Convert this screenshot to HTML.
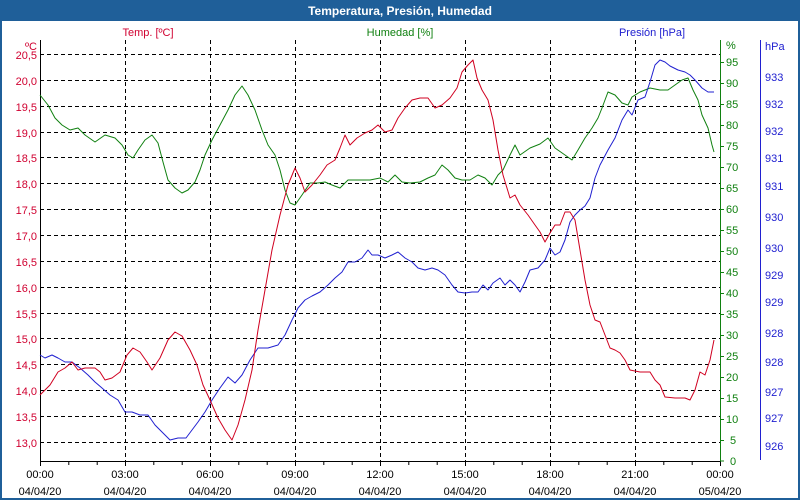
<!DOCTYPE html>
<html><head><meta charset="utf-8"><style>
html,body{margin:0;padding:0;background:#fff}
svg{display:block;font-family:"Liberation Sans",Tahoma,sans-serif}
</style></head><body>
<svg width="800" height="500" xmlns="http://www.w3.org/2000/svg">
<rect x="0" y="0" width="800" height="500" fill="#1f5f99"/>
<rect x="2" y="21" width="796" height="477" fill="#fff"/>
<text x="400" y="15" fill="#fff" font-size="12" font-weight="bold" text-anchor="middle">Temperatura, Presión, Humedad</text>
<g font-size="11">
<text x="148" y="36" fill="#d00030" text-anchor="middle">Temp. [ºC]</text>
<text x="400" y="36" fill="#108010" text-anchor="middle">Humedad [%]</text>
<text x="652" y="36" fill="#2020d0" text-anchor="middle">Presión [hPa]</text>
</g>
<g stroke="#000" stroke-dasharray="4,3" stroke-width="1">
<path d="M40 54.5H720M40 80.5H720M40 106.5H720M40 132.5H720M40 157.5H720M40 183.5H720M40 209.5H720M40 235.5H720M40 261.5H720M40 287.5H720M40 313.5H720M40 338.5H720M40 364.5H720M40 390.5H720M40 416.5H720M40 442.5H720"/>
<path d="M125.5 40V461M210.5 40V461M295.5 40V461M380.5 40V461M465.5 40V461M550.5 40V461M635.5 40V461"/>
</g>
<path d="M40.5 40V461.5H720" fill="none" stroke="#000"/>
<path d="M40.5 461V466M68.8 461V465M97.2 461V465M125.5 461V466M153.8 461V465M182.2 461V465M210.5 461V466M238.8 461V465M267.2 461V465M295.5 461V466M323.8 461V465M352.2 461V465M380.5 461V466M408.8 461V465M437.2 461V465M465.5 461V466M493.8 461V465M522.2 461V465M550.5 461V466M578.8 461V465M607.2 461V465M635.5 461V466M663.8 461V465M692.2 461V465M720.5 461V466" stroke="#000"/>
<g font-size="11" fill="#d00030" text-anchor="end">
<text x="37" y="50">ºC</text>
<text x="37" y="59">20,5</text><text x="37" y="85">20,0</text><text x="37" y="111">19,5</text><text x="37" y="137">19,0</text><text x="37" y="162">18,5</text><text x="37" y="188">18,0</text><text x="37" y="214">17,5</text><text x="37" y="240">17,0</text><text x="37" y="266">16,5</text><text x="37" y="292">16,0</text><text x="37" y="318">15,5</text><text x="37" y="343">15,0</text><text x="37" y="369">14,5</text><text x="37" y="395">14,0</text><text x="37" y="421">13,5</text><text x="37" y="447">13,0</text>
</g>
<path d="M720.5 40V461" stroke="#108010"/>
<g stroke="#108010"><path d="M720 62.5h4M720 83.5h4M720 104.5h4M720 125.5h4M720 146.5h4M720 167.5h4M720 188.5h4M720 209.5h4M720 230.5h4M720 251.5h4M720 272.5h4M720 293.5h4M720 314.5h4M720 335.5h4M720 356.5h4M720 377.5h4M720 398.5h4M720 419.5h4M720 440.5h4M720 461h4"/></g>
<g font-size="11" fill="#108010">
<text x="726" y="49">%</text>
<text x="726" y="66">95</text><text x="726" y="87">90</text><text x="726" y="108">85</text><text x="726" y="129">80</text><text x="726" y="150">75</text><text x="726" y="171">70</text><text x="726" y="192">65</text><text x="726" y="213">60</text><text x="726" y="234">55</text><text x="726" y="255">50</text><text x="726" y="276">45</text><text x="726" y="297">40</text><text x="726" y="318">35</text><text x="726" y="339">30</text><text x="726" y="360">25</text><text x="726" y="381">20</text><text x="726" y="402">15</text><text x="726" y="423">10</text><text x="730" y="444">5</text><text x="730" y="465">0</text>
</g>
<path d="M760.5 40V460" stroke="#2020d0"/>
<g font-size="11" fill="#2020d0">
<text x="765" y="50">hPa</text>
<text x="765" y="81">933</text><text x="765" y="108">932</text><text x="765" y="135">932</text><text x="765" y="162">931</text><text x="765" y="190">931</text><text x="765" y="221">930</text><text x="765" y="252">930</text><text x="765" y="279">929</text><text x="765" y="306">929</text><text x="765" y="337">928</text><text x="765" y="366">928</text><text x="765" y="396">927</text><text x="765" y="422">927</text><text x="765" y="450">926</text>
</g>
<g font-size="11" fill="#000" text-anchor="middle">
<text x="40" y="478">00:00</text><text x="40" y="495">04/04/20</text>
<text x="125" y="478">03:00</text><text x="125" y="495">04/04/20</text>
<text x="210" y="478">06:00</text><text x="210" y="495">04/04/20</text>
<text x="295" y="478">09:00</text><text x="295" y="495">04/04/20</text>
<text x="380" y="478">12:00</text><text x="380" y="495">04/04/20</text>
<text x="465" y="478">15:00</text><text x="465" y="495">04/04/20</text>
<text x="550" y="478">18:00</text><text x="550" y="495">04/04/20</text>
<text x="635" y="478">21:00</text><text x="635" y="495">04/04/20</text>
<text x="720" y="478">00:00</text><text x="720" y="495">05/04/20</text>
</g>
<g fill="none" stroke-width="1" stroke-linejoin="round">
<polyline stroke="#108010" points="40,95 48,105 55,118 62,125 70,130 78,128 85,135 95,142 105,135 115,138 122,145 128,155 133,158 138,150 145,140 152,135 158,143 163,162 168,180 175,188 182,193 188,190 195,182 200,170 205,155 212,140 220,125 228,110 235,95 242,86 248,95 255,110 262,130 268,145 275,155 280,170 285,190 290,203 295,205 302,195 310,183 318,183 325,182 332,185 340,188 348,180 360,180 370,180 380,178 388,182 395,175 402,182 410,183 420,182 428,178 435,175 442,165 448,170 455,178 462,180 470,180 478,175 485,178 492,185 498,175 503,170 510,155 515,145 520,155 530,148 540,144 548,138 555,148 565,155 572,160 578,150 585,138 592,128 598,118 602,108 608,92 615,95 622,103 628,105 632,97 640,92 650,88 660,90 668,90 675,85 682,80 688,78 693,90 698,100 702,115 708,128 712,145 714,152"/>
<polyline stroke="#2020d0" points="40,355 45,358 52,355 58,358 65,362 72,362 80,368 88,375 95,382 102,388 110,395 118,400 125,412 132,412 140,415 148,415 155,425 162,432 170,440 178,438 186,438 192,430 198,422 205,412 212,400 220,388 228,377 235,383 242,375 250,360 258,348 268,348 278,345 285,335 292,320 298,308 305,300 312,296 320,292 328,285 335,278 342,272 348,262 355,262 362,258 368,250 372,255 378,255 385,258 392,255 398,252 405,258 412,262 418,268 425,270 432,268 438,270 445,275 452,285 458,292 465,293 472,292 478,292 483,285 488,290 493,283 500,278 505,285 510,280 515,285 520,292 525,282 530,270 538,268 545,260 550,248 555,255 560,252 565,240 570,222 575,215 580,210 585,206 590,198 595,178 600,165 608,150 615,138 622,120 628,110 632,115 638,100 645,97 650,82 655,65 660,60 665,62 670,66 678,70 685,72 690,75 695,80 702,88 708,92 714,92"/>
<polyline stroke="#d00020" points="40,395 50,385 58,372 65,368 72,362 78,370 85,368 95,368 100,372 105,380 112,378 120,372 127,355 133,348 140,352 147,362 152,370 160,358 168,340 175,332 182,336 190,350 197,365 203,385 210,400 218,418 225,430 232,440 238,425 245,400 252,370 258,330 265,290 272,250 280,215 288,185 295,168 300,178 305,192 312,185 320,175 327,165 335,160 340,148 345,135 350,145 357,138 365,133 372,130 378,125 385,132 392,130 398,118 405,108 412,100 420,98 428,98 435,108 442,105 450,98 457,88 462,72 468,65 473,60 477,78 482,90 488,100 493,120 498,150 503,175 510,198 515,195 520,205 528,215 535,225 540,232 545,242 550,233 555,225 560,225 565,212 570,212 575,220 580,250 585,280 590,305 595,320 600,322 605,335 610,348 615,350 620,353 625,360 630,370 640,372 650,372 655,380 660,385 665,397 675,398 685,398 690,400 695,390 700,372 705,375 710,360 714,340"/>
</g>
</svg>
</body></html>
